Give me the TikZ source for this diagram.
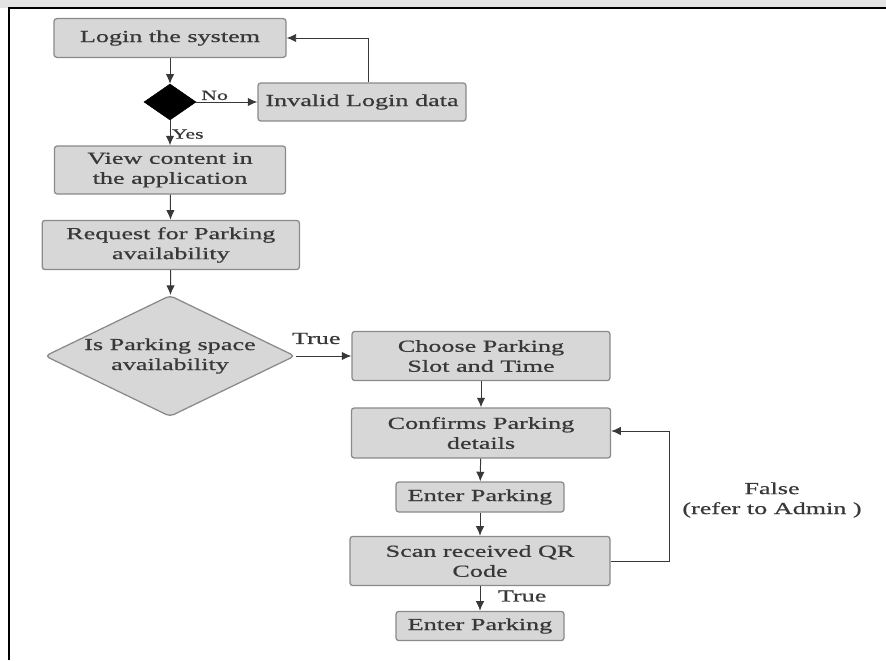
\documentclass[tikz,border=0pt]{standalone}
\usepackage{fontspec}
\setmainfont{Liberation Serif}[FakeStretch=1.55, FakeBold=0.7]
\usetikzlibrary{arrows.meta, positioning, shapes.geometric}
\definecolor{BoxGrey}{HTML}{D7D7D7}
\definecolor{EdgeGrey}{HTML}{8A8A8A}
\definecolor{InkGrey}{HTML}{383838}

\begin{document}
\begin{tikzpicture}[>={Latex[length=2.4mm, width=2.1mm]},
  box/.style={draw=EdgeGrey, rounded corners=2pt, fill=BoxGrey, text=InkGrey,
              line width=0.9pt, inner sep=1pt,
              font=\fontsize{12}{14.2}\selectfont, align=center},
  decide/.style={diamond, aspect=2.07, draw=EdgeGrey, rounded corners=3pt, fill=BoxGrey,
                 text=InkGrey, line width=0.9pt, inner sep=0pt,
                 font=\fontsize{12}{14.2}\selectfont, align=center},
  flow/.style={->, InkGrey, line width=0.7pt},
  lbl/.style={text=InkGrey, inner sep=1pt}]
  % page and frame
  \useasboundingbox (0, 0) rectangle (22.15, 16.5);
  \fill[gray!22] (0, 16.3) rectangle (22.15, 16.5);
  \draw[line width=1.3pt] (0.225, 0) -- (0.225, 16.3) -- (22.15, 16.3);

  % left column
  \node[box, minimum width=5.8cm, minimum height=0.97cm] (login) at (4.25, 15.55) {Login the system};
  \node[diamond, fill=black, draw=black, minimum width=1.3cm, minimum height=0.9cm, inner sep=0pt] (check) at (4.25, 13.95) {};
  \node[box, minimum width=5.2cm, minimum height=0.95cm] (invalid) at (9.05, 13.95) {Invalid Login data};
  \node[box, minimum width=5.78cm, minimum height=1.2cm] (view) at (4.25, 12.25) {View content in\\the application};
  \node[box, minimum width=6.43cm, minimum height=1.23cm] (request) at (4.27, 10.375) {Request for Parking\\availability};
  \node[decide, minimum width=6.25cm, minimum height=3.03cm] (avail) at (4.25, 7.6) {Is Parking space\\availability};

  % right column
  \node[box, minimum width=6.45cm, minimum height=1.23cm] (choose) at (12.025, 7.6) {Choose Parking\\Slot and Time};
  \node[box, minimum width=6.48cm, minimum height=1.25cm] (confirm) at (12.025, 5.675) {Confirms Parking\\details};
  \node[box, minimum width=4.2cm, minimum height=0.75cm] (enter) at (12.0, 4.075) {Enter Parking};
  \node[box, minimum width=6.5cm, minimum height=1.23cm] (scan) at (12.0, 2.475) {Scan received QR\\Code};
  \node[box, minimum width=4.2cm, minimum height=0.73cm] (done) at (12.0, 0.85) {Enter Parking};

  % connectors
  \draw[flow] (login) -- (check);
  \draw[flow] (check) -- node[lbl, above, font=\fontsize{10}{12}\selectfont, pos=0.3] (no) {No} (invalid);
  \draw[flow] ([xshift=1.5mm]invalid.north) |- (login.east);
  \draw[flow] (check) -- node[lbl, right, font=\fontsize{10}{12}\selectfont, pos=0.55] (yes) {Yes} (view);
  \draw[flow] (view) -- (request);
  \draw[flow] (request) -- (avail);
  \draw[flow] (avail) -- node[lbl, above=2.5mm, font=\fontsize{12}{14}\selectfont, pos=0.37] (true1) {True} (choose);
  \draw[flow] (choose) -- (confirm);
  \draw[flow] (confirm) -- (enter);
  \draw[flow] (enter) -- (scan);
  \draw[flow] (scan) -- node[lbl, right=4mm, font=\fontsize{12}{14}\selectfont, pos=0.4] (true2) {True} (done);
  \draw[flow] (scan.east) -- ++(1.47, 0) coordinate (turn) |- ([yshift=0.5mm]confirm.east);
  \node[lbl, font=\fontsize{12}{14.2}\selectfont, align=center] (false) at (19.3, 4.0) {False\\(refer to Admin )};
\end{tikzpicture}
\end{document}
